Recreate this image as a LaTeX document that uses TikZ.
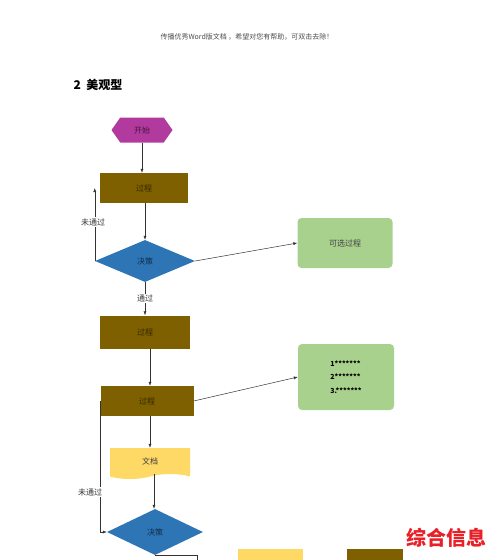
\documentclass[tikz,border=0pt]{standalone}
\usepackage{fontspec}
\setmainfont{Noto Sans CJK SC}
\usetikzlibrary{shapes.geometric,shapes.symbols,arrows.meta}
\definecolor{startpink}{RGB}{178,58,158}
\definecolor{procbrown}{RGB}{127,96,0}
\definecolor{decblue}{RGB}{46,117,182}
\definecolor{optgreen}{RGB}{169,209,142}
\definecolor{docyellow}{RGB}{255,217,102}
\definecolor{markred}{RGB}{232,32,40}

\begin{document}
\begin{tikzpicture}[x=1pt,y=-1pt,
  txt/.style={font=\fontsize{8}{9}\selectfont},
  proc/.style={txt,fill=procbrown,text=black!60!procbrown,minimum width=88pt,minimum height=30pt,inner sep=0pt},
  dec/.style={txt,diamond,fill=decblue,text=black!60!decblue,minimum width=100pt,minimum height=42pt,inner sep=0pt},
  opt/.style={txt,fill=optgreen,text=black!75,rounded corners=4pt,minimum width=95pt,minimum height=50pt},
  arr/.style={-{Latex[length=4pt,width=3pt]},black!80,line width=0.5pt},
  lbl/.style={txt,fill=white,inner sep=1pt,text=black!80}]
\useasboundingbox (0,0) rectangle (494,560);
\clip (0,0) rectangle (494,560);

\node[font=\fontsize{7}{8}\selectfont,text=black!70] (head) at (247,37) {传播优秀Word版文档 ，希望对您有帮助，可双击去除！};
\node[font=\fontsize{12}{14}\selectfont\bfseries,anchor=west] (title) at (70,85) {2\ \ 美观型};

% flow, left column
\node[txt,signal,signal to=west and east,signal pointer angle=110,fill=startpink,text=black!60!startpink,minimum width=61pt,minimum height=25pt,inner sep=0pt] (start) at (142,130) {开始};
\node[proc] (p1) at (144,188) {过程};
\node[dec] (d1) at (145,261) {决策};
\node[proc,minimum width=90pt,minimum height=33pt] (p2) at (145,332) {过程};
\node[proc,minimum width=93pt] (p3) at (147,401) {过程};
\node[txt,tape,tape bend top=none,fill=docyellow,text=black!75,minimum width=80pt,minimum height=31pt,inner sep=0pt] (doc) at (150,461) {文档};
\node[dec,minimum width=96pt,minimum height=46pt] (d2) at (155,532) {决策};

% right column
\node[opt] (o1) at (345,243) {可选过程};
\node[opt,minimum width=96pt,minimum height=66pt,align=left,font=\fontsize{7}{13.5}\selectfont\bfseries,text=black] (o2) at (346,377) {1*******\\2*******\\3.*******};

% bottom row (cut off)
\node[fill=docyellow,minimum width=65pt,minimum height=16pt] (y1) at (270,557) {};
\node[fill=procbrown,minimum width=56pt,minimum height=16pt] (b1) at (375,557) {};
\node[font=\fontsize{20}{22}\selectfont\bfseries,text=markred] (mark) at (446,538) {综合信息};

\draw[arr] (start.south) -- (start.south |- p1.north);
\draw[arr] (p1.south -| d1.north) -- (d1.north);
\draw[arr] (d1.west) -- (d1.west |- p1.west);
\node[lbl] (no1) at (93,222) {未通过};
\draw[arr] (d1.east) -- (o1.west);
\draw[arr] (d1.south) -- node[lbl] (yes1) {通过} (d1.south |- p2.north);
\draw[arr] ([xshift=5pt]p2.south) -- ([xshift=5pt]p2.south |- p3.north);
\draw[arr] (p3.east) -- (o2.west);
\draw[arr] ([xshift=3pt]p3.south) -- ([xshift=3pt]p3.south |- doc.north);
\draw[arr] ([xshift=4pt]doc.south) -- ([xshift=4pt]doc.south |- d2.north);
\draw[arr] (p3.west) -- (p3.west |- d2.west) -- (d2.west);
\node[lbl] (no2) at (90,492) {未通过};
\coordinate (c1) at (197,570);
\draw[black!80,line width=0.5pt] (d2.south) -| (c1);
\end{tikzpicture}
\end{document}
